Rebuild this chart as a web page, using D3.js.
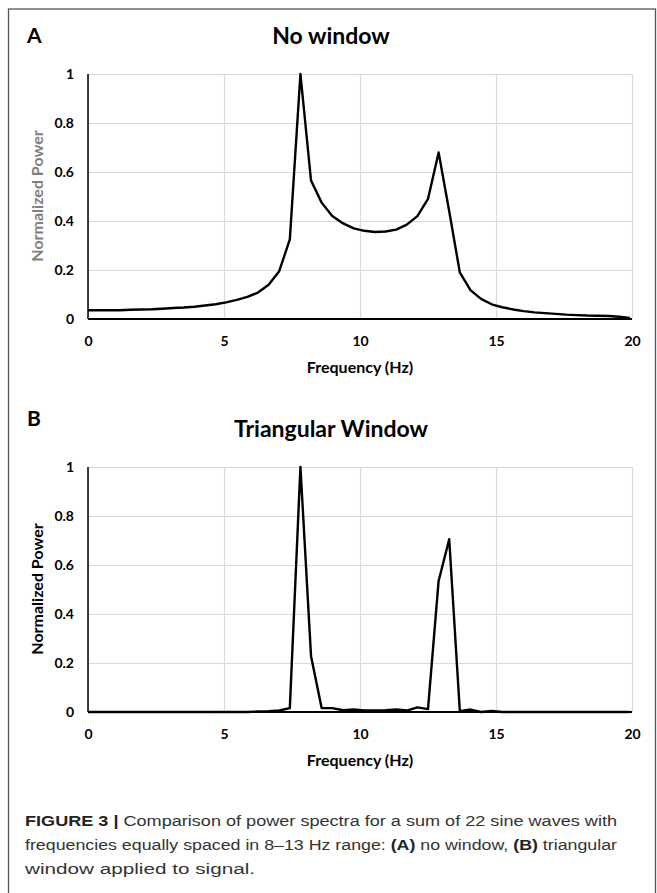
<!DOCTYPE html>
<html>
<head>
<meta charset="utf-8">
<script src="https://cdn.jsdelivr.net/npm/d3@7"></script>
<style>
  body { margin: 0; background: #fff; }
  svg text { font-family: Lato, "Open Sans", sans-serif; }
  .cap text { font-family: "Liberation Sans", Arial, sans-serif; }
</style>
</head>
<body>
<svg id="fig" width="657" height="893"></svg>
<script>
// frequency bins (Hz)
var freq = [0, 0.39, 0.78, 1.17, 1.56, 1.95, 2.34, 2.73, 3.13, 3.52, 3.91, 4.30, 4.69,
  5.08, 5.47, 5.86, 6.25, 6.64, 7.03, 7.42, 7.81, 8.20, 8.59, 8.98, 9.38, 9.77,
  10.16, 10.55, 10.94, 11.33, 11.72, 12.11, 12.50, 12.89, 13.28, 13.67, 14.06, 14.45,
  14.84, 15.23, 15.63, 16.02, 16.41, 16.80, 17.19, 17.58, 17.97, 18.36, 18.75, 19.14,
  19.53, 19.92];

// (A) no window
var powerNoWindow = [0.036, 0.036, 0.036, 0.036, 0.038, 0.039, 0.040, 0.042, 0.045, 0.047,
  0.050, 0.055, 0.060, 0.068, 0.078, 0.090, 0.108, 0.140, 0.195, 0.325, 1.0, 0.565,
  0.475, 0.420, 0.390, 0.370, 0.360, 0.355, 0.357, 0.365, 0.385, 0.420, 0.490, 0.680,
  0.440, 0.190, 0.118, 0.082, 0.060, 0.048, 0.039, 0.032, 0.027, 0.024, 0.021, 0.018,
  0.016, 0.014, 0.013, 0.012, 0.009, 0.004];

// (B) triangular window
var powerTriangular = [0, 0, 0, 0, 0, 0, 0, 0, 0, 0, 0, 0, 0, 0, 0, 0, 0.002, 0.003, 0.006,
  0.016, 1.0, 0.228, 0.016, 0.016, 0.007, 0.010, 0.006, 0.006, 0.007, 0.010, 0.006,
  0.019, 0.012, 0.535, 0.705, 0.003, 0.010, 0.0, 0.004, 0, 0, 0, 0, 0, 0, 0, 0, 0, 0,
  0, 0, 0];

var xTicks = [0, 5, 10, 15, 20];
var yTicks = [0, 0.2, 0.4, 0.6, 0.8, 1];

var captionLines = [
  [["FIGURE 3 | ", true], ["Comparison of power spectra for a sum of 22 sine waves with", false]],
  [["frequencies equally spaced in 8\u201313 Hz range: ", false], ["(A)", true], [" no window, ", false], ["(B)", true], [" triangular", false]],
  [["window applied to signal.", false]]
];

var svg = d3.select("#fig");

// outer frame
svg.append("rect")
  .attr("x", 8.5).attr("y", 9)
  .attr("width", 647).attr("height", 900)
  .attr("fill", "none").attr("stroke", "#555").attr("stroke-width", 1.3);

var x = d3.scaleLinear().domain([0, 20]).range([88, 632]);

function panel(top, values, letter, letterY, title, ylabColor) {
  var bottom = top + 245;
  var y = d3.scaleLinear().domain([0, 1]).range([bottom, top]);
  var g = svg.append("g");

  // grid
  g.append("g")
    .attr("transform", "translate(0," + bottom + ")")
    .call(d3.axisBottom(x).tickValues(xTicks).tickSize(-(bottom - top)).tickFormat(""))
    .call(s => s.select(".domain").remove())
    .call(s => s.selectAll("line").attr("stroke", "#d9d9d9").attr("stroke-width", 1.2));
  g.append("g")
    .attr("transform", "translate(" + x(0) + ",0)")
    .call(d3.axisLeft(y).tickValues(yTicks).tickSize(-(x(20) - x(0))).tickFormat(""))
    .call(s => s.select(".domain").remove())
    .call(s => s.selectAll("line").attr("stroke", "#d9d9d9").attr("stroke-width", 1.2));

  // axis lines
  g.append("line").attr("x1", x(0)).attr("x2", x(0)).attr("y1", top).attr("y2", bottom)
    .attr("stroke", "#000").attr("stroke-width", 1.5);
  g.append("line").attr("x1", x(0)).attr("x2", x(20)).attr("y1", bottom).attr("y2", bottom)
    .attr("stroke", "#000").attr("stroke-width", 2);

  // tick labels
  g.append("g")
    .attr("transform", "translate(" + x(0) + ",0)")
    .call(d3.axisLeft(y).tickValues(yTicks).tickSize(0).tickPadding(14).tickFormat(d => String(d)))
    .call(s => s.select(".domain").remove())
    .call(s => s.selectAll("text").attr("font-size", 14).attr("font-weight", 700)
      .attr("font-family", "Lato").attr("fill", "#000"));
  g.append("g")
    .attr("transform", "translate(0," + bottom + ")")
    .call(d3.axisBottom(x).tickValues(xTicks).tickSize(0).tickPadding(17).tickFormat(d => String(d)))
    .call(s => s.select(".domain").remove())
    .call(s => s.selectAll("text").attr("font-size", 14).attr("font-weight", 700)
      .attr("font-family", "Lato").attr("fill", "#000"));

  // data line
  var line = d3.line().x((d, i) => x(freq[i])).y(d => y(d));
  g.append("path").datum(values)
    .attr("d", line)
    .attr("fill", "none").attr("stroke", "#000")
    .attr("stroke-width", 2.4).attr("stroke-linejoin", "round");

  // titles
  g.append("text").attr("x", 27).attr("y", letterY)
    .attr("font-size", 21).attr("font-weight", 700).text(letter);
  g.append("text").attr("x", 331).attr("y", top - 30).attr("text-anchor", "middle")
    .attr("font-size", 23).attr("font-weight", 700).text(title);
  g.append("text").attr("x", 360).attr("y", bottom + 54).attr("text-anchor", "middle")
    .attr("font-size", 16).attr("font-weight", 700).text("Frequency (Hz)");
  g.append("text")
    .attr("transform", "translate(43," + (top + 122) + ") rotate(-90)")
    .attr("text-anchor", "middle").attr("fill", ylabColor)
    .attr("font-size", 16).attr("font-weight", 700).text("Normalized Power");
}

panel(74, powerNoWindow, "A", 43, "No window", "#7f7f7f");
panel(467, powerTriangular, "B", 426, "Triangular Window", "#000");

// caption
var cap = svg.append("g").attr("class", "cap");
var capWidths = [592, 592, 230];
captionLines.forEach(function (parts, i) {
  var t = cap.append("text")
    .attr("x", 25).attr("y", 826 + i * 24)
    .attr("font-size", 15.5).attr("fill", "#333")
    .attr("textLength", capWidths[i]).attr("lengthAdjust", "spacingAndGlyphs");
  parts.forEach(function (p) {
    t.append("tspan").attr("font-weight", p[1] ? 700 : 400)
      .attr("fill", p[1] ? "#222" : "#333").text(p[0]);
  });
});
</script>
</body>
</html>
